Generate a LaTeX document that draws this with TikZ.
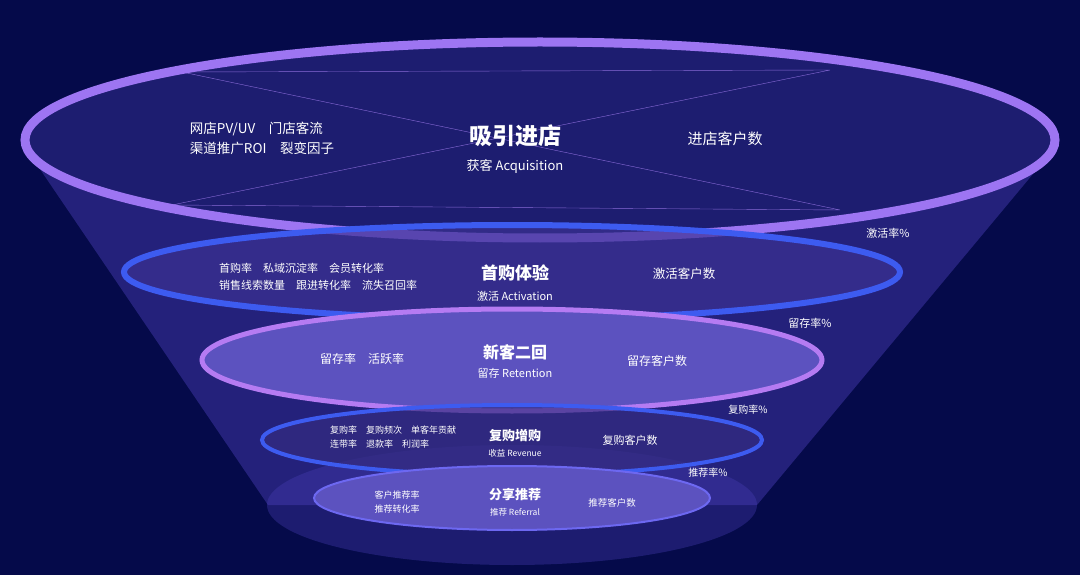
\documentclass[tikz,border=0pt]{standalone}
\usepackage{fontspec}
\setmainfont{Noto Sans CJK SC}
\usetikzlibrary{positioning,calc}

\definecolor{bgnavy}{HTML}{050A4A}
\definecolor{ringblue}{HTML}{3D5BF0}
\definecolor{ringviolet}{HTML}{B57BF2}
\definecolor{conefill}{HTML}{4A3FB8}
\definecolor{chord}{HTML}{8A6BD8}

\tikzset{
  ring/.style={line width=#1},
  title/.style={text=white,font=\bfseries\fontsize{15}{17}\selectfont},
  subtitle/.style={text=white!75,font=\fontsize{11}{13}\selectfont},
  metric/.style={text=white,font=\fontsize{11}{17}\selectfont,align=left},
  count/.style={text=white,font=\fontsize{12.5}{15}\selectfont},
  rate/.style={text=white,font=\fontsize{11}{13}\selectfont}
}

\begin{document}
\begin{tikzpicture}[x=1pt,y=-1pt]
  % Background
  \fill[bgnavy] (0,0) rectangle (1080,575);
  \useasboundingbox (0,0) rectangle (1080,575);

  % Cone and glow
  \fill[conefill,opacity=0.35] (512,505) ellipse [x radius=245,y radius=60];
  \fill[conefill,opacity=0.45] (27,150) -- (1053,150) -- (757,505) -- (268,505) -- cycle;
  \fill[bgnavy!65!conefill] (540,140) ellipse [x radius=515,y radius=98];

  % Chords in the top ring
  \coordinate (ctl) at (182,72);
  \coordinate (ctr) at (830,70);
  \coordinate (cbl) at (172,205);
  \coordinate (cbr) at (840,210);
  \draw[chord,thin] (ctl) -- (ctr) (cbl) -- (cbr) (ctl) -- (cbr) (ctr) -- (cbl);

  % Rings
  \draw[ring=9pt,draw=ringviolet!80!ringblue]
    (540,140) ellipse [x radius=515,y radius=98];
  \fill[conefill!80!black,opacity=0.7] (512,272) ellipse [x radius=388,y radius=47];
  \draw[ringblue,ring=6pt] (512,272) ellipse [x radius=388,y radius=47];
  \fill[conefill!90!white] (512,360) ellipse [x radius=310,y radius=51];
  \draw[ringviolet,ring=5pt] (512,360) ellipse [x radius=310,y radius=51];
  \fill[conefill!70!black,opacity=0.7] (512,440) ellipse [x radius=250,y radius=35];
  \draw[ringblue,ring=4pt] (512,440) ellipse [x radius=250,y radius=35];
  \fill[conefill!90!white] (512,498) ellipse [x radius=198,y radius=32];
  \draw[ringblue!60!ringviolet,ring=2pt] (512,498) ellipse [x radius=198,y radius=32];

  % Stage 1
  \node[title,font=\bfseries\fontsize{23}{26}\selectfont] (acqT) at (515,136) {吸引进店};
  \node[subtitle,font=\fontsize{13}{15}\selectfont] (acqS) at (515,166) {获客 Acquisition};
  \node[metric,font=\fontsize{13.5}{20}\selectfont] (acqM) at (262,138) {网店PV/UV\quad 门店客流\\渠道推广ROI\quad 裂变因子};
  \node[count,font=\fontsize{15}{17}\selectfont] (acqC) at (725,139) {进店客户数};

  % Stage 2
  \node[title,font=\bfseries\fontsize{17}{19}\selectfont] (actT) at (515,273) {首购体验};
  \node[subtitle] (actS) at (515,296) {激活 Activation};
  \node[metric] (actM) at (318,277) {首购率\quad 私域沉淀率\quad 会员转化率\\销售线索数量\quad 跟进转化率\quad 流失召回率};
  \node[count] (actC) at (684,274) {激活客户数};
  \node[rate] (actR) at (888,233) {激活率\%};

  % Stage 3
  \node[title,font=\bfseries\fontsize{16}{18}\selectfont] (retT) at (515,352) {新客二回};
  \node[subtitle] (retS) at (515,373) {留存 Retention};
  \node[metric,font=\fontsize{12}{14}\selectfont] (retM) at (362,359) {留存率\quad 活跃率};
  \node[count,font=\fontsize{12}{14}\selectfont] (retC) at (657,361) {留存客户数};
  \node[rate] (retR) at (810,323) {留存率\%};

  % Stage 4
  \node[title,font=\bfseries\fontsize{13}{15}\selectfont] (revT) at (515,436) {复购增购};
  \node[subtitle,font=\fontsize{8.5}{10}\selectfont] (revS) at (515,453) {收益 Revenue};
  \node[metric,font=\fontsize{9}{14}\selectfont] (revM) at (393,437) {复购率\quad 复购频次\quad 单客年贡献\\连带率\quad 退款率\quad 利润率};
  \node[count,font=\fontsize{11}{13}\selectfont] (revC) at (630,440) {复购客户数};
  \node[rate,font=\fontsize{10}{12}\selectfont] (revR) at (748,410) {复购率\%};

  % Stage 5
  \node[title,font=\bfseries\fontsize{13}{15}\selectfont] (refT) at (515,495) {分享推荐};
  \node[subtitle,font=\fontsize{8.5}{10}\selectfont] (refS) at (515,512) {推荐 Referral};
  \node[metric,font=\fontsize{9}{14}\selectfont] (refM) at (397,502) {客户推荐率\\推荐转化率};
  \node[count,font=\fontsize{9.5}{12}\selectfont] (refC) at (612,503) {推荐客户数};
  \node[rate,font=\fontsize{10}{12}\selectfont] (refR) at (708,473) {推荐率\%};
\end{tikzpicture}
\end{document}
